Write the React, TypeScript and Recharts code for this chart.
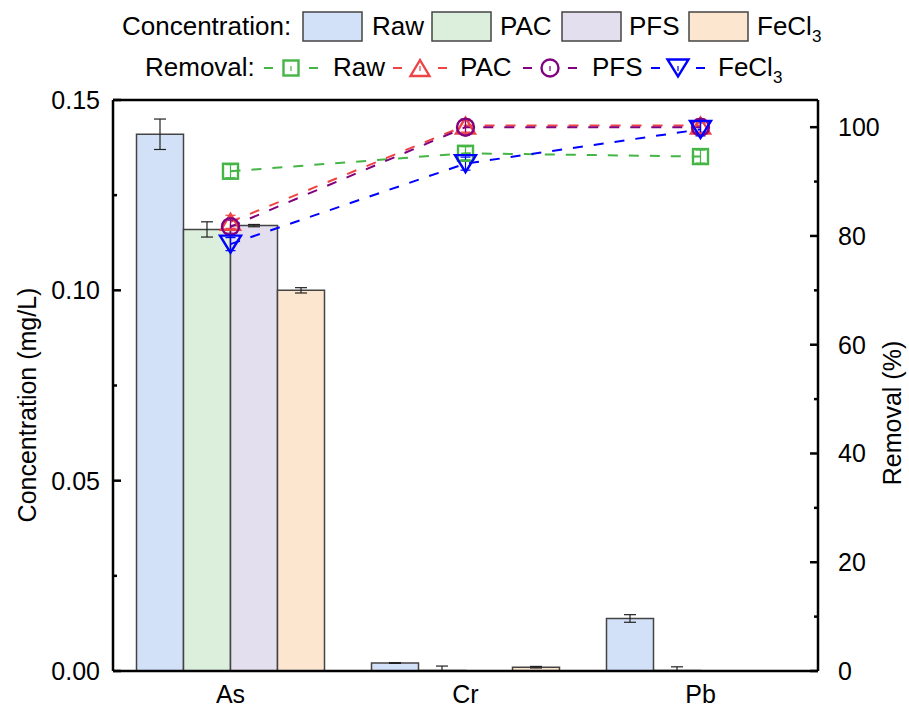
import React from "react";
import { ComposedChart, Bar, Line, XAxis, YAxis, ErrorBar, ReferenceLine } from "recharts";

if (typeof document !== "undefined") document.body.style.margin = "0";

const FONT = "'Liberation Sans', Arial, Helvetica, sans-serif";

// categories on the x axis
const categories = ["As", "Cr", "Pb"];

// concentration (mg/L), left axis
const concRaw = [0.141, 0.0021, 0.0138];
const concRawErr = [0.004, 0.0001, 0.001];
const concPAC = [0.116, 0.0001, 0.0001];
const concPACErr: (number | number[])[] = [0.002, [0.0001, 0.0012], [0.0001, 0.001]];
const concPFS = [0.117, null, null];
const concPFSErr = [0.0003, null, null];
const concFeCl3 = [0.1, 0.001, null];
const concFeCl3Err = [0.0007, 0.0002, null];

// removal (%), right axis
const remRaw = [91.9, 95.2, 94.6];
const remPAC = [82.6, 100.3, 100.3];
const remPFS = [81.7, 100, 100];
const remFeCl3 = [78.5, 93.3, 99.6];
const remErr = [1.2, 1.2, 1.2];

const leftTicks = [0, 0.025, 0.05, 0.075, 0.1, 0.125, 0.15];
const rightTicks = [0, 10, 20, 30, 40, 50, 60, 70, 80, 90, 100];

const COLORS = {
  raw: { fill: "#D3E1F8", line: "#45B545" },
  pac: { fill: "#DBEFDC", line: "#EE4444" },
  pfs: { fill: "#E4DFEE", line: "#800080" },
  fecl3: { fill: "#FDE6CF", line: "#0000FF" },
};

const data = categories.map((name, i) => ({
  name,
  raw: concRaw[i],
  rawErr: concRawErr[i],
  pac: concPAC[i],
  pacErr: concPACErr[i],
  pfs: concPFS[i],
  pfsErr: concPFSErr[i],
  fecl3: concFeCl3[i],
  fecl3Err: concFeCl3Err[i],
  remRaw: remRaw[i],
  remPAC: remPAC[i],
  remPFS: remPFS[i],
  remFeCl3: remFeCl3[i],
  remErr: remErr[i],
}));

type MarkerKind = "square" | "triUp" | "circle" | "triDown";

function marker(kind: MarkerKind, cx: number, cy: number, color: string, key?: string | number) {
  const sw = 2.4;
  if (kind === "square") {
    return <rect key={key} x={cx - 7.5} y={cy - 7.5} width={15} height={15} fill="none" stroke={color} strokeWidth={sw} />;
  }
  if (kind === "circle") {
    return <circle key={key} cx={cx} cy={cy} r={8.5} fill="none" stroke={color} strokeWidth={sw} />;
  }
  if (kind === "triUp") {
    const w = 19, h = 16;
    return (
      <polygon key={key} points={`${cx},${cy - h / 2} ${cx - w / 2},${cy + h / 2} ${cx + w / 2},${cy + h / 2}`}
        fill="none" stroke={color} strokeWidth={sw} strokeLinejoin="miter" />
    );
  }
  const w = 21, h = 17;
  return (
    <polygon key={key} points={`${cx - w / 2},${cy - h / 2} ${cx + w / 2},${cy - h / 2} ${cx},${cy + h / 2}`}
      fill="none" stroke={color} strokeWidth={sw} strokeLinejoin="miter" />
  );
}

const dotOf = (kind: MarkerKind, color: string) => (p: any) =>
  p.cx == null || p.cy == null ? <g key={p.index} /> : marker(kind, p.cx, p.cy, color, p.index);

function LeftTick(props: any) {
  const { x, y, payload } = props;
  const v = payload.value as number;
  const major = Math.abs(v / 0.05 - Math.round(v / 0.05)) < 1e-6;
  const ax = x + 13;
  return (
    <g>
      <line x1={ax} x2={ax + (major ? 8 : 4)} y1={y} y2={y} stroke="#000" strokeWidth={2.5} />
      {major && (
        <text x={x} y={y} dy="0.36em" textAnchor="end" fontSize={25} fontFamily={FONT} fill="#000">
          {v.toFixed(2)}
        </text>
      )}
    </g>
  );
}

function RightTick(props: any) {
  const { x, y, payload } = props;
  const v = payload.value as number;
  const major = v % 20 === 0;
  const ax = x - 20;
  return (
    <g>
      <line x1={ax} x2={ax - (major ? 8 : 4)} y1={y} y2={y} stroke="#000" strokeWidth={2.5} />
      {major && (
        <text x={x} y={y} dy="0.36em" textAnchor="start" fontSize={25} fontFamily={FONT} fill="#000">
          {v}
        </text>
      )}
    </g>
  );
}

function CatTick(props: any) {
  const { x, y, payload } = props;
  return (
    <text x={x} y={y + 32} textAnchor="middle" fontSize={25} fontFamily={FONT} fill="#000">
      {payload.value}
    </text>
  );
}

const boxLegend = [
  { label: "Raw", fill: COLORS.raw.fill, box: 303, text: 372 },
  { label: "PAC", fill: COLORS.pac.fill, box: 432, text: 500 },
  { label: "PFS", fill: COLORS.pfs.fill, box: 562, text: 629 },
  { label: "FeCl", sub: "3", fill: COLORS.fecl3.fill, box: 689, text: 757 },
];

const lineLegend: { label: string; sub?: string; color: string; kind: MarkerKind; x: number; text: number }[] = [
  { label: "Raw", color: COLORS.raw.line, kind: "square", x: 264, text: 333 },
  { label: "PAC", color: COLORS.pac.line, kind: "triUp", x: 393, text: 460 },
  { label: "PFS", color: COLORS.pfs.line, kind: "circle", x: 523, text: 592 },
  { label: "FeCl", sub: "3", color: COLORS.fecl3.line, kind: "triDown", x: 651, text: 718 },
];

function Overlay() {
  const t = { fontFamily: FONT, fill: "#000" } as const;
  return (
    <svg width={909} height={709} style={{ position: "absolute", left: 0, top: 0, pointerEvents: "none" }}>
      <text x={122} y={35} fontSize={26} {...t}>Concentration:</text>
      {boxLegend.map((b) => (
        <g key={b.label}>
          <rect x={b.box} y={12} width={59} height={29} fill={b.fill} stroke="#444" strokeWidth={1.5} />
          <text x={b.text} y={35} fontSize={26} {...t}>
            {b.label}
            {b.sub && <tspan fontSize={17} dy={7}>{b.sub}</tspan>}
          </text>
        </g>
      ))}
      <text x={145} y={76} fontSize={26} {...t}>Removal:</text>
      {lineLegend.map((l) => (
        <g key={l.label}>
          <line x1={l.x} x2={l.x + 9} y1={68} y2={68} stroke={l.color} strokeWidth={2} />
          <line x1={l.x + 45} x2={l.x + 54} y1={68} y2={68} stroke={l.color} strokeWidth={2} />
          {marker(l.kind, l.x + 27, 68, l.color)}
          <line x1={l.x + 27} x2={l.x + 27} y1={66} y2={71} stroke={l.color} strokeWidth={1.2} />
          <text x={l.text} y={76} fontSize={26} {...t}>
            {l.label}
            {l.sub && <tspan fontSize={17} dy={7}>{l.sub}</tspan>}
          </text>
        </g>
      ))}
      <text x={36} y={405} fontSize={25} textAnchor="middle" transform="rotate(-90 36 405)" {...t}>
        Concentration (mg/L)
      </text>
      <text x={901} y={413} fontSize={25} textAnchor="middle" transform="rotate(-90 901 413)" {...t}>
        Removal (%)
      </text>
    </svg>
  );
}

export default function App() {
  const barStroke = { stroke: "#444", strokeWidth: 1.5 };
  const eb = { width: 6, stroke: "#222", strokeWidth: 1.2 };
  const lineCommon = { type: "linear" as const, strokeWidth: 2, strokeDasharray: "10 11", activeDot: false, isAnimationActive: false, yAxisId: "right" };
  return (
    <div style={{ position: "relative", width: 909, height: 709, background: "#fff" }}>
      <ComposedChart width={909} height={709} data={data} margin={{ top: 100, right: 0, bottom: 0, left: 0 }}
        barCategoryGap="10%" barGap={0}>
        <XAxis dataKey="name" height={38} tickLine={false} tickSize={0} tickMargin={0} interval={0}
          axisLine={{ stroke: "#000", strokeWidth: 2.5 }} tick={<CatTick />} />
        <YAxis yAxisId="left" width={113} domain={[0, 0.15]} ticks={leftTicks} allowDataOverflow
          tickLine={false} tickSize={0} tickMargin={13} axisLine={{ stroke: "#000", strokeWidth: 2.5 }} tick={<LeftTick />} />
        <YAxis yAxisId="right" orientation="right" width={91} domain={[0, 105]} ticks={rightTicks} allowDataOverflow
          tickLine={false} tickSize={0} tickMargin={20} axisLine={{ stroke: "#000", strokeWidth: 2.5 }} tick={<RightTick />} />
        <ReferenceLine yAxisId="left" y={0.15} stroke="#000" strokeWidth={2.5} />
        <Bar yAxisId="left" dataKey="raw" fill={COLORS.raw.fill} {...barStroke} isAnimationActive={false}>
          <ErrorBar dataKey="rawErr" {...eb} />
        </Bar>
        <Bar yAxisId="left" dataKey="pac" fill={COLORS.pac.fill} {...barStroke} isAnimationActive={false}>
          <ErrorBar dataKey="pacErr" {...eb} />
        </Bar>
        <Bar yAxisId="left" dataKey="pfs" fill={COLORS.pfs.fill} {...barStroke} isAnimationActive={false}>
          <ErrorBar dataKey="pfsErr" {...eb} />
        </Bar>
        <Bar yAxisId="left" dataKey="fecl3" fill={COLORS.fecl3.fill} {...barStroke} isAnimationActive={false}>
          <ErrorBar dataKey="fecl3Err" {...eb} />
        </Bar>
        <Line {...lineCommon} dataKey="remRaw" stroke={COLORS.raw.line} dot={dotOf("square", COLORS.raw.line)}>
          <ErrorBar dataKey="remErr" width={5} stroke={COLORS.raw.line} strokeWidth={1.2} />
        </Line>
        <Line {...lineCommon} dataKey="remPAC" stroke={COLORS.pac.line} dot={dotOf("triUp", COLORS.pac.line)}>
          <ErrorBar dataKey="remErr" width={5} stroke={COLORS.pac.line} strokeWidth={1.2} />
        </Line>
        <Line {...lineCommon} dataKey="remPFS" stroke={COLORS.pfs.line} dot={dotOf("circle", COLORS.pfs.line)}>
          <ErrorBar dataKey="remErr" width={5} stroke={COLORS.pfs.line} strokeWidth={1.2} />
        </Line>
        <Line {...lineCommon} dataKey="remFeCl3" stroke={COLORS.fecl3.line} dot={dotOf("triDown", COLORS.fecl3.line)}>
          <ErrorBar dataKey="remErr" width={5} stroke={COLORS.fecl3.line} strokeWidth={1.2} />
        </Line>
      </ComposedChart>
      <Overlay />
    </div>
  );
}
